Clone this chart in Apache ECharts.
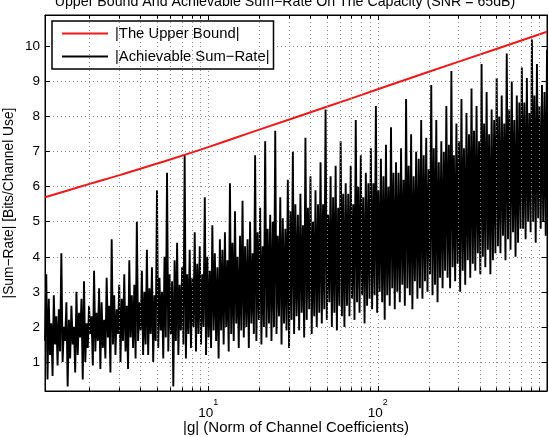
<!DOCTYPE html>
<html>
<head>
<meta charset="utf-8">
<script src="https://cdn.jsdelivr.net/npm/echarts@6/dist/echarts.min.js"></script>
<style>
html, body { margin: 0; padding: 0; background: #fff; }
#main { width: 549px; height: 437px; }
</style>
</head>
<body>
<div id="main"></div>
<script>
var FONT = 'Liberation Sans, Helvetica, Arial, sans-serif';

// axis ranges (tight, as in the figure)
var gRange = [1.09, 995];
var rateRange = [0.17, 10.9];

// upper bound, read at a few |g| values
var boundG = [1.09, 1.5, 2, 3, 5, 10, 20, 50, 100, 200, 500, 995];
var boundRate = [5.70, 5.90, 6.08, 6.33, 6.66, 7.13, 7.63, 8.28, 8.78, 9.28, 9.93, 10.42];

// achievable sum-rate, peaks and troughs read from left to right
var sumRate = [
  1.6,3.5,0.5,2.8,1.2,2.1,0.6,2.9,1.5,2.3,0.9,2.5,1.3,4.1,1.0,2.0,1.6,2.7,0.3,2.2,
  1.1,2.6,1.5,2.0,0.7,3.0,1.2,2.4,1.7,2.8,0.5,3.3,1.0,2.1,1.4,2.6,1.8,2.3,0.9,3.6,
  1.3,2.4,1.6,3.1,0.8,2.7,1.4,2.2,1.1,3.4,1.7,2.6,0.7,4.5,1.5,2.9,1.2,2.5,1.8,3.2,
  1.0,2.8,1.6,3.5,1.3,2.6,0.8,3.9,1.7,2.9,1.4,3.2,1.1,5.0,1.6,2.7,1.9,3.6,1.2,3.0,
  1.5,4.2,1.2,3.1,1.8,3.7,1.0,2.9,1.6,5.9,1.4,3.4,1.9,3.0,1.1,4.0,1.7,6.4,1.3,3.5,
  1.8,3.3,0.3,3.9,1.6,4.4,1.2,3.2,1.9,3.7,1.5,6.9,1.1,3.5,1.8,4.2,1.4,3.4,2.0,4.7,
  1.3,3.8,1.8,4.3,1.5,3.5,2.0,5.7,1.2,4.0,1.7,3.6,1.4,4.9,1.9,4.1,1.6,3.7,1.1,4.5,
  1.9,4.2,1.5,4.7,2.0,3.9,1.3,6.1,1.8,4.4,1.6,5.3,2.1,4.0,1.4,4.6,1.9,5.6,1.7,4.3,
  2.0,4.5,1.4,5.0,2.1,4.1,1.8,6.9,1.6,4.7,2.2,5.4,1.5,4.3,2.0,7.3,1.7,4.8,2.1,5.2,
  1.6,5.0,2.0,7.6,1.8,4.6,2.3,5.7,1.5,5.1,2.1,4.8,1.9,6.2,1.4,5.3,2.2,7.0,1.8,5.5,
  2.3,5.2,1.9,5.8,2.4,4.9,1.7,7.4,2.2,5.4,2.5,6.3,1.8,5.0,2.3,5.9,2.0,5.5,2.4,6.7,
  2.1,5.5,2.5,8.2,2.2,5.2,2.7,6.3,2.0,5.7,2.4,6.6,1.9,5.4,2.6,7.3,2.3,5.8,2.0,6.1,
  2.6,5.8,2.3,6.6,2.8,5.5,2.2,7.9,2.7,6.0,2.4,6.9,2.9,5.7,2.1,6.4,2.6,6.1,2.8,7.1,
  2.5,6.1,2.9,8.3,2.4,5.9,3.0,6.8,2.7,6.3,2.2,7.2,2.9,6.0,2.6,7.7,3.1,6.4,2.5,6.7,
  3.0,6.4,2.7,7.1,3.2,6.2,2.6,8.5,3.1,6.6,2.9,7.5,2.5,6.3,3.3,7.0,2.8,6.8,3.1,7.9,
  2.8,6.9,3.3,7.4,3.0,6.5,3.5,8.9,2.9,7.1,3.2,7.9,2.7,6.7,3.4,7.3,3.1,7.0,3.6,8.3,
  3.4,7.2,3.1,9.3,3.7,6.9,3.3,7.8,3.8,7.3,3.0,8.5,3.6,7.1,3.2,8.1,3.9,7.5,3.4,8.8,
  3.8,7.6,3.6,8.3,4.1,7.3,3.5,9.5,4.0,7.8,3.7,8.7,4.2,7.5,3.5,8.2,3.9,7.9,4.1,9.1,
  4.3,8.0,4.1,8.6,4.6,7.8,3.9,9.8,4.5,8.2,4.2,9.0,4.7,7.9,4.0,8.6,4.4,8.4,4.8,9.4,
  4.8,8.4,4.5,9.1,5.0,8.1,4.7,10.2,5.0,8.6,4.4,9.5,5.1,8.3,4.8,8.9,5.0,8.7,4.6,9.9
];

// minor decade positions (grid + minor ticks)
var minorG = [2,3,4,5,6,7,8,9, 20,30,40,50,60,70,80,90, 200,300,400,500,600,700,800,900];

var seriesNames = ['|The Upper Bound|', '|Achievable Sum\u2212Rate|'];

// sumRate samples sit on a log-spaced |g| grid across the axis
var ratio = Math.pow(gRange[1] / gRange[0], 1 / (sumRate.length - 1));
var ratePoints = [];
for (var i = 0; i < sumRate.length; i++) {
    ratePoints.push([gRange[0] * Math.pow(ratio, i), sumRate[i]]);
}
var boundPoints = [];
for (var j = 0; j < boundG.length; j++) {
    boundPoints.push([boundG[j], boundRate[j]]);
}

var gridLine = [];
var tickLine = [];
var tickLen = 0.1;
for (var k = 0; k < minorG.length; k++) {
    gridLine.push({ xAxis: minorG[k] });
    tickLine.push([{ coord: [minorG[k], rateRange[0]] }, { coord: [minorG[k], rateRange[0] + tickLen] }]);
    tickLine.push([{ coord: [minorG[k], rateRange[1]] }, { coord: [minorG[k], rateRange[1] - tickLen] }]);
}

var dotted = { color: '#8a8a8a', width: 1, type: [1, 3] };

var myChart = echarts.init(document.getElementById('main'));
var option = {
    animation: false,
    backgroundColor: '#fff',
    textStyle: { fontFamily: FONT, color: '#000' },
    title: {
        text: 'Upper Bound And Achievable Sum\u2212Rate On The Capacity (SNR = 65dB)',
        left: 280,
        top: -10,
        textAlign: 'center',
        textStyle: { fontFamily: FONT, fontSize: 14.2, fontWeight: 'normal', color: '#000' }
    },
    legend: {
        orient: 'vertical',
        left: 52,
        top: 21,
        data: seriesNames,
        padding: [5, 4, 5, 9],
        itemWidth: 46,
        itemHeight: 14,
        itemGap: 8,
        backgroundColor: '#fff',
        borderColor: '#000',
        borderWidth: 1.5,
        borderRadius: 0,
        itemStyle: { opacity: 0 },
        textStyle: { fontFamily: FONT, fontSize: 14.8, color: '#000', padding: [0, 0, 0, 2] }
    },
    grid: {
        left: 45,
        right: 2,
        top: 15,
        bottom: 46,
        outerBoundsMode: 'none',
        containLabel: false,
        show: true,
        borderColor: '#000',
        borderWidth: 1
    },
    xAxis: [{
        type: 'log',
        logBase: 10,
        min: gRange[0],
        max: gRange[1],
        name: '|g| (Norm of Channel Coefficients)',
        nameLocation: 'middle',
        nameGap: 29,
        nameMoveOverlap: false,
        nameTextStyle: { fontFamily: FONT, fontSize: 15, color: '#000' },
        axisLine: { show: true, lineStyle: { color: '#000', width: 1 } },
        axisTick: { inside: true, length: 5, lineStyle: { color: '#000' } },
        axisLabel: {
            margin: 7,
            showMinLabel: false,
            showMaxLabel: false,
            formatter: function (v) {
                return '{b|10}{s|' + Math.round(Math.log10(v)) + '}';
            },
            rich: {
                b: { fontFamily: FONT, fontSize: 13.5, color: '#000', lineHeight: 22, verticalAlign: 'bottom' },
                s: { fontFamily: FONT, fontSize: 9, color: '#000', verticalAlign: 'top' }
            }
        },
        splitLine: { show: true, lineStyle: dotted }
    }, {
        type: 'log',
        logBase: 10,
        position: 'top',
        min: gRange[0],
        max: gRange[1],
        axisLine: { show: true, lineStyle: { color: '#000', width: 1 } },
        axisTick: { inside: true, length: 5, lineStyle: { color: '#000' } },
        axisLabel: { show: false },
        splitLine: { show: false }
    }],
    yAxis: [{
        type: 'value',
        min: rateRange[0],
        max: rateRange[1],
        minInterval: 1,
        maxInterval: 1,
        name: '|Sum\u2212Rate| [Bits/Channel Use]',
        nameLocation: 'middle',
        nameGap: 29,
        nameMoveOverlap: false,
        nameTextStyle: { fontFamily: FONT, fontSize: 13.8, color: '#000' },
        axisLine: { show: true, lineStyle: { color: '#000', width: 1 } },
        axisTick: { inside: true, length: 5, lineStyle: { color: '#000' } },
        axisLabel: {
            margin: 5,
            showMinLabel: false,
            showMaxLabel: false,
            fontFamily: FONT,
            fontSize: 13.5,
            color: '#000'
        },
        splitLine: { show: true, lineStyle: dotted }
    }, {
        type: 'value',
        position: 'right',
        min: rateRange[0],
        max: rateRange[1],
        minInterval: 1,
        maxInterval: 1,
        axisLine: { show: true, lineStyle: { color: '#000', width: 1 } },
        axisTick: { inside: true, length: 5, lineStyle: { color: '#000' } },
        axisLabel: { show: false },
        splitLine: { show: false }
    }],
    series: [{
        // minor grid and minor ticks
        type: 'line',
        data: [],
        z: 1,
        silent: true,
        markLine: {
            silent: true,
            symbol: 'none',
            label: { show: false },
            lineStyle: dotted,
            data: gridLine
        }
    }, {
        type: 'line',
        data: [],
        z: 6,
        silent: true,
        markLine: {
            silent: true,
            symbol: 'none',
            label: { show: false },
            lineStyle: { color: '#000', width: 1, type: 'solid' },
            data: tickLine
        }
    }, {
        name: seriesNames[1],
        type: 'line',
        data: ratePoints,
        z: 3,
        symbol: 'none',
        lineStyle: { color: '#000', width: 1.9 },
        itemStyle: { color: '#444' }
    }, {
        name: seriesNames[0],
        type: 'line',
        data: boundPoints,
        z: 4,
        smooth: true,
        symbol: 'none',
        lineStyle: { color: '#f01818', width: 2 },
        itemStyle: { color: '#f01818' }
    }]
};
myChart.setOption(option);
</script>
</body>
</html>
